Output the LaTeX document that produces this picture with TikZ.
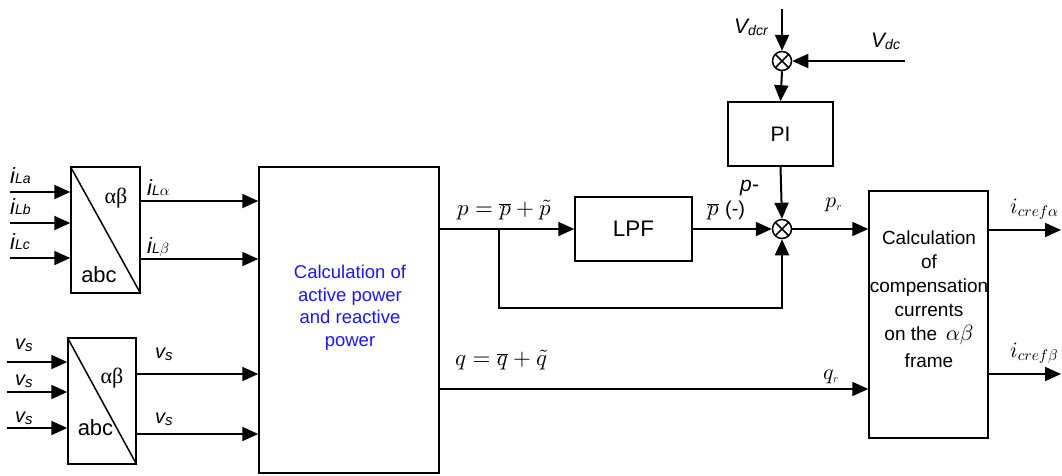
\documentclass[tikz,border=0pt]{standalone}
\usepackage[no-math]{fontspec}
\setmainfont{Liberation Sans}
\newfontfamily\grk{Liberation Serif}
\DeclareFontShape{OML}{cmm}{m}{it}{<-> cmmi10}{}
\DeclareFontShape{OT1}{cmr}{m}{n}{<-> cmr10}{}
\DeclareFontShape{OMS}{cmsy}{m}{n}{<-> cmsy10}{}
\usetikzlibrary{arrows.meta,calc}
\definecolor{calcblue}{RGB}{25,25,235}
\newcommand{\fs}[1]{\fontsize{#1}{#1}\selectfont}
\newcommand{\iL}[1]{{\fs{22}\itshape i}{\fs{14}\itshape L#1}}
\newcommand{\iLg}[1]{{\fs{22}\itshape i}{\fs{14}\itshape L}{\fs{15}$#1$}}
\newcommand{\vs}{{\fs{20}\itshape v}\raisebox{-2pt}{\fs{15}\itshape s}}
\begin{document}
\begin{tikzpicture}[x=1pt,y=-1pt,
  box/.style={draw, line width=1.5pt, inner sep=0pt},
  arr/.style={line width=2pt, -{Triangle[length=16pt,width=14pt]}},
  sumj/.style={circle, draw, line width=1.5pt, minimum size=19pt, inner sep=0pt,
    path picture={\draw[line width=1.5pt]
      (path picture bounding box.north west)--(path picture bounding box.south east)
      (path picture bounding box.north east)--(path picture bounding box.south west);}},
  lbl/.style={inner sep=0pt}]
\useasboundingbox (0,0) rectangle (1062,475);

% transformation blocks
\node[box, minimum width=69pt, minimum height=126pt] (tA) at (105.5,230) {};
\draw[line width=1.5pt] (tA.north west) -- (tA.south east);
\node[lbl, anchor=base, font=\grk\fs{22}] (tAab) at (116,203) {αβ};
\node[lbl, anchor=base, font=\fs{22}] (tAabc) at (99,282) {abc};

\node[box, minimum width=68pt, minimum height=126pt] (tB) at (102,401) {};
\draw[line width=1.5pt] (tB.north west) -- (tB.south east);
\node[lbl, anchor=base, font=\grk\fs{22}] (tBab) at (112,383) {αβ};
\node[lbl, anchor=base, font=\fs{22}] (tBabc) at (95.5,435) {abc};

% main calculation block
\node[box, minimum width=180pt, minimum height=306pt] (calc) at (349,320) {};
\node[lbl, anchor=north, align=center, text=calcblue, font=\fontsize{18.5}{22.5}\selectfont] (calctext) at (350,265)
  {Calculation of\\active power\\and reactive\\power};

% LPF, PI
\node[box, minimum width=117pt, minimum height=64pt, font=\fs{22.5}] (lpf) at (633.5,229) {LPF};
\node[box, minimum width=105pt, minimum height=64pt, font=\fs{21}] (pi) at (780.5,134) {PI};

% summing junctions
\node[sumj] (s1) at (782,61) {};
\node[sumj] (s2) at (782,229) {};

% compensation block
\node[box, minimum width=119pt, minimum height=247pt] (comp) at (928.5,314.5) {};
\node[lbl, anchor=north, align=center, font=\fontsize{19}{24}\selectfont] (comptext) at (929,231)
  {Calculation\\of\\compensation\\currents\\on the \,{\fontsize{22}{24}\selectfont$\alpha\beta$}\\[3pt]frame};

% inputs of tA
\coordinate (a1) at (10,192);
\coordinate (a2) at (10,223);
\coordinate (a3) at (10,258);
\draw[arr] (a1) -- (a1 -| tA.west);
\draw[arr] (a2) -- (a2 -| tA.west);
\draw[arr] (a3) -- (a3 -| tA.west);
\node[lbl, anchor=base west] (la) at (10,183) {\iL{a}};
\node[lbl, anchor=base west] (lb) at (10,214) {\iL{b}};
\node[lbl, anchor=base west] (lc) at (10,249) {\iL{c}};

% outputs of tA
\draw[arr] (tA.east |- 0,201) -- (calc.west |- 0,201);
\draw[arr] (tA.east |- 0,259) -- (calc.west |- 0,259);
\node[lbl, anchor=base west] (lal) at (147,195) {\iLg{\alpha}};
\node[lbl, anchor=base west] (lbe) at (147,253) {\iLg{\beta}};

% inputs of tB
\coordinate (b1) at (7,362);
\coordinate (b2) at (7,392);
\coordinate (b3) at (7,428);
\draw[arr] (b1) -- (b1 -| tB.west);
\draw[arr] (b2) -- (b2 -| tB.west);
\draw[arr] (b3) -- (b3 -| tB.west);
\node[lbl, anchor=base west] (v1) at (15,349) {\vs};
\node[lbl, anchor=base west] (v2) at (15,385) {\vs};
\node[lbl, anchor=base west] (v3) at (15,422) {\vs};

% outputs of tB
\draw[arr] (tB.east |- 0,374) -- (calc.west |- 0,374);
\draw[arr] (tB.east |- 0,434) -- (calc.west |- 0,434);
\node[lbl, anchor=base west] (v4) at (155,358) {\vs};
\node[lbl, anchor=base west] (v5) at (155,423) {\vs};

% p path
\draw[arr] (calc.east |- lpf.west) -- (lpf.west);
\node[lbl, anchor=base west, font=\fs{23}] (peq) at (457,215) {$p=\overline{p}+\tilde{p}$};
\coordinate (br) at (499,229);
\coordinate (bl) at (499,308);
\draw[arr] (br) -- (bl) -| (s2.south);
\draw[arr] (lpf.east) -- (s2.west);
\node[lbl, anchor=base west] (pbar) at (707,215) {\fs{23}$\overline{p}$ \fs{20}(-)};
\draw[arr] (pi.south) -- (s2.north);
\node[lbl, anchor=base west, font=\fs{21}\itshape] (pminus) at (740,191) {p-};
\draw[arr] (s2.east) -- (comp.west |- s2.east);
\node[lbl, anchor=base west, font=\fs{22}] (pr) at (825,207) {$p_{\scriptscriptstyle r}$};

% DC voltage loop
\coordinate (vdcr) at (782,9);
\coordinate (vdc) at (905,61);
\draw[arr] (vdcr) -- (s1.north);
\draw[arr] (vdc) -- (s1.east);
\draw[arr] (s1.south) -- (pi.north);
\node[lbl, anchor=base west] (lvdcr) at (734,33) {{\fs{21}\itshape V}\raisebox{-2pt}{\fs{14}\itshape dcr}};
\node[lbl, anchor=base west] (lvdc) at (871,47) {{\fs{21}\itshape V}\raisebox{-2pt}{\fs{14}\itshape dc}};

% q path
\draw[arr] (calc.east |- 0,389) -- (comp.west |- 0,389);
\node[lbl, anchor=base west, font=\fs{23}] (qeq) at (455,365) {$q=\overline{q}+\tilde{q}$};
\node[lbl, anchor=base west, font=\fs{22}] (qr) at (823,379) {$q_{\scriptscriptstyle r}$};

% outputs
\coordinate (o1) at (1061,230);
\coordinate (o2) at (1061,374);
\draw[arr] (comp.east |- o1) -- (o1);
\draw[arr] (comp.east |- o2) -- (o2);
\node[lbl, anchor=base west, font=\fs{22}] (ia) at (1010,213) {$i_{cref\alpha}$};
\node[lbl, anchor=base west, font=\fs{22}] (ib) at (1010,357) {$i_{cref\beta}$};
\end{tikzpicture}
\end{document}
